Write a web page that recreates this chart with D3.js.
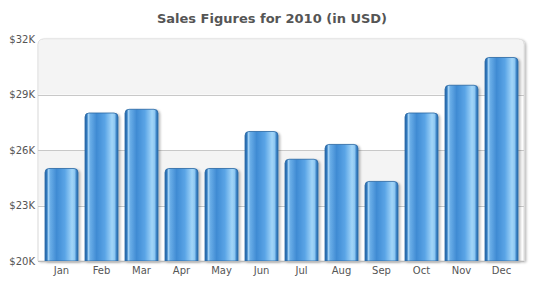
<!DOCTYPE html>
<html>
<head>
<meta charset="utf-8">
<script src="https://cdn.jsdelivr.net/npm/d3@7"></script>
<style>
  html, body { margin: 0; padding: 0; background: #fff; }
  svg { display: block; font-family: "DejaVu Sans", Verdana, sans-serif; }
</style>
</head>
<body>
<svg id="chart"></svg>
<script>
(() => {

  const months = ['Jan', 'Feb', 'Mar', 'Apr', 'May', 'Jun', 'Jul', 'Aug', 'Sep', 'Oct', 'Nov', 'Dec'];
  const sales = [25000, 28000, 28200, 25000, 25000, 27000, 25500, 26300, 24300, 28000, 29500, 31000];
  const yTicks = [20000, 23000, 26000, 29000, 32000];
  const yTickLabels = ['$20K', '$23K', '$26K', '$29K', '$32K'];

  const svgWidth = 544;
  const svgHeight = 291;
  const plot = { left: 38, right: 524, top: 39, bottom: 261 };

  const svg = d3.select('#chart')
    .attr('width', svgWidth)
    .attr('height', svgHeight);

  const defs = svg.append('defs');

  // bar gradient, left to right
  const grad = defs.append('linearGradient')
    .attr('id', 'barGrad')
    .attr('x1', '0%').attr('x2', '100%').attr('y1', '0%').attr('y2', '0%');
  [
    [0, '#2a6cab'], [0.06, '#2f78bd'], [0.1, '#a9d6f7'], [0.16, '#6aaee8'],
    [0.35, '#3f8bd3'], [0.6, '#5aa4e6'], [0.82, '#a2d5f8'], [0.9, '#8cc6f1'],
    [0.95, '#3f86c8'], [1, '#2a6cab']
  ].forEach(([o, c]) => grad.append('stop').attr('offset', o).attr('stop-color', c));

  const shadow = defs.append('filter').attr('id', 'shadow')
    .attr('x', '-10%').attr('y', '-10%').attr('width', '130%').attr('height', '130%');
  shadow.append('feDropShadow')
    .attr('dx', 2).attr('dy', 1).attr('stdDeviation', 1.2)
    .attr('flood-color', '#000').attr('flood-opacity', 0.25);

  const x = d3.scaleBand()
    .domain(months)
    .range([41.5, 521.5])
    .paddingInner(0.175)
    .paddingOuter(0.0875);

  const y = d3.scaleLinear()
    .domain([20000, 32000])
    .range([plot.bottom, plot.top]);

  // title
  svg.append('text')
    .attr('x', 272)
    .attr('y', 23)
    .attr('text-anchor', 'middle')
    .attr('font-size', 13)
    .attr('font-weight', 'bold')
    .attr('fill', '#555')
    .text('Sales Figures for 2010 (in USD)');

  // plot background with rounded top corners
  const r = 6;
  const bgPath = `M${plot.left},${plot.bottom} V${plot.top + r} Q${plot.left},${plot.top} ${plot.left + r},${plot.top}
    H${plot.right - r} Q${plot.right},${plot.top} ${plot.right},${plot.top + r} V${plot.bottom} Z`;
  svg.append('path')
    .attr('d', bgPath)
    .attr('fill', '#fff')
    .attr('stroke', '#d8d8d8')
    .attr('filter', 'url(#shadow)');

  // alternating bands
  const bands = d3.pairs(yTicks).filter((d, i) => i % 2 === 1);
  svg.selectAll('rect.band')
    .data(bands)
    .enter()
    .append('rect')
    .attr('class', 'band')
    .attr('x', plot.left + 1)
    .attr('width', plot.right - plot.left - 2)
    .attr('y', d => y(d[1]) + (d[1] === 32000 ? r : 0))
    .attr('height', d => y(d[0]) - y(d[1]) - (d[1] === 32000 ? r : 0))
    .attr('fill', '#f4f4f4');
  svg.append('path')
    .attr('d', `M${plot.left + 0.5},${plot.top + r + 0.5} Q${plot.left + 0.5},${plot.top + 0.5} ${plot.left + r},${plot.top + 0.5}
      H${plot.right - r} Q${plot.right - 0.5},${plot.top + 0.5} ${plot.right - 0.5},${plot.top + r + 0.5} Z`)
    .attr('fill', '#f4f4f4');

  // gridlines
  svg.selectAll('line.grid')
    .data(yTicks.slice(1, -1))
    .enter()
    .append('line')
    .attr('x1', plot.left)
    .attr('x2', plot.right)
    .attr('y1', d => Math.round(y(d)) + 0.5)
    .attr('y2', d => Math.round(y(d)) + 0.5)
    .attr('stroke', '#c8c8c8');

  // y axis
  const yAxis = d3.axisLeft(y)
    .tickValues(yTicks)
    .tickFormat((d, i) => yTickLabels[i])
    .tickSize(0)
    .tickPadding(3);
  const gy = svg.append('g')
    .attr('transform', `translate(${plot.left},0)`)
    .call(yAxis);
  gy.select('.domain').remove();
  gy.selectAll('text')
    .attr('font-family', '"DejaVu Sans", Verdana, sans-serif')
    .attr('font-size', 10)
    .attr('fill', '#555');

  // bars
  const rr = 4;
  svg.selectAll('path.bar')
    .data(sales)
    .enter()
    .append('path')
    .attr('class', 'bar')
    .attr('d', (d, i) => {
      const x0 = x(months[i]);
      const x1 = x0 + x.bandwidth();
      const y0 = y(d);
      const yb = y(20000);
      return `M${x0},${yb} V${y0 + rr} Q${x0},${y0} ${x0 + rr},${y0} H${x1 - rr} Q${x1},${y0} ${x1},${y0 + rr} V${yb} Z`;
    })
    .attr('fill', 'url(#barGrad)')
    .attr('stroke', '#2b68a3')
    .attr('stroke-width', 0.8)
    .attr('filter', 'url(#shadow)');

  // base line
  svg.append('line')
    .attr('x1', plot.left)
    .attr('x2', plot.right)
    .attr('y1', plot.bottom + 0.5)
    .attr('y2', plot.bottom + 0.5)
    .attr('stroke', '#bbb');

  // x axis
  const xAxis = d3.axisBottom(x).tickSize(0).tickPadding(6);
  const gx = svg.append('g')
    .attr('transform', `translate(0,${plot.bottom})`)
    .call(xAxis);
  gx.select('.domain').remove();
  gx.selectAll('text')
    .attr('font-family', '"DejaVu Sans", Verdana, sans-serif')
    .attr('font-size', 10)
    .attr('fill', '#555');

})();
</script>
</body>
</html>
